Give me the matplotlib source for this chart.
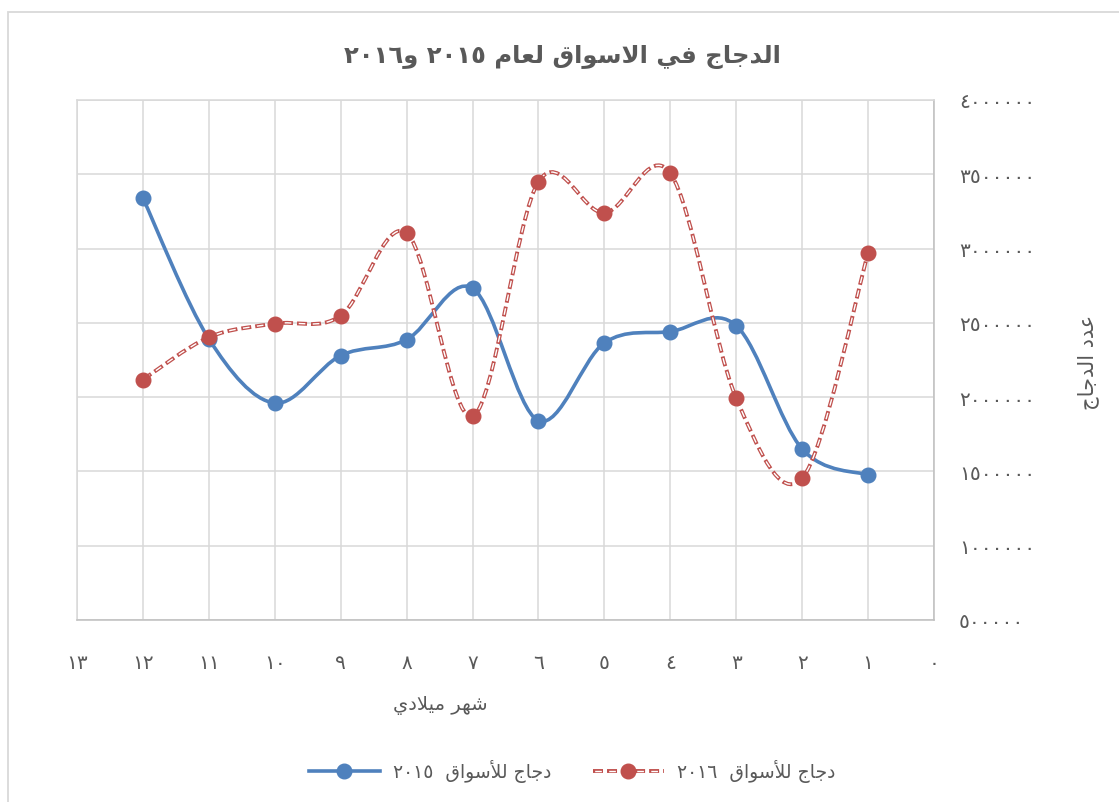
import re

import matplotlib

matplotlib.use("Agg")
import matplotlib.pyplot as plt
import numpy as np
from matplotlib.legend_handler import HandlerTuple
from matplotlib.lines import Line2D
from matplotlib.patches import PathPatch, Rectangle
from matplotlib.path import Path

plt.rcParams["font.family"] = ["DejaVu Sans"]
plt.rcParams["lines.scale_dashes"] = False

# months (x) and market chickens per month
months = [12, 11, 10, 9, 8, 7, 6, 5, 4, 3, 2, 1]
chickens_2015 = [3340000, 2392000, 1960000, 2280000, 2387000, 2733000,
                 1842000, 2365000, 2441000, 2481000, 1651000, 1476000]
chickens_2016 = [2118000, 2403000, 2495000, 2548000, 3105000, 1871000,
                 3450000, 3240000, 3507000, 1993000, 1454000, 2970000]

x_ticks = list(range(0, 14))
y_ticks = list(range(500000, 4000001, 500000))

title_text = "الدجاج في الاسواق لعام ٢٠١٥ و٢٠١٦"
x_title = "شهر ميلادي"
y_title = "عدد الدجاج"
label_2015 = "دجاج للأسواق  ٢٠١٥"
label_2016 = "دجاج للأسواق  ٢٠١٦"

BLUE = "#4F81BD"
RED = "#C0504D"
GRID = "#D9D9D9"
AXIS = "#BFBFBF"
TEXT = "#595959"

# --- minimal Arabic shaping (presentation forms) + visual ordering ---------
FORMS = {
    "ا": ("\uFE8D", "\uFE8E", None, None),
    "أ": ("\uFE83", "\uFE84", None, None),
    "د": ("\uFEA9", "\uFEAA", None, None),
    "ر": ("\uFEAD", "\uFEAE", None, None),
    "و": ("\uFEED", "\uFEEE", None, None),
    "ج": ("\uFE9D", "\uFE9E", "\uFE9F", "\uFEA0"),
    "س": ("\uFEB1", "\uFEB2", "\uFEB3", "\uFEB4"),
    "ش": ("\uFEB5", "\uFEB6", "\uFEB7", "\uFEB8"),
    "ع": ("\uFEC9", "\uFECA", "\uFECB", "\uFECC"),
    "ف": ("\uFED1", "\uFED2", "\uFED3", "\uFED4"),
    "ق": ("\uFED5", "\uFED6", "\uFED7", "\uFED8"),
    "ل": ("\uFEDD", "\uFEDE", "\uFEDF", "\uFEE0"),
    "م": ("\uFEE1", "\uFEE2", "\uFEE3", "\uFEE4"),
    "ه": ("\uFEE9", "\uFEEA", "\uFEEB", "\uFEEC"),
    "ي": ("\uFEF1", "\uFEF2", "\uFEF3", "\uFEF4"),
}
LAM_ALEF = {"ا": ("\uFEFB", "\uFEFC"), "أ": ("\uFEF7", "\uFEF8")}
DIGITS = str.maketrans("0123456789", "٠١٢٣٤٥٦٧٨٩")


def joins_next(c: str) -> bool:
    return c in FORMS and FORMS[c][2] is not None


def shape(text: str) -> str:
    out = []
    i = 0
    while i < len(text):
        c = text[i]
        if c not in FORMS:
            out.append(c)
            i += 1
            continue
        linked = i > 0 and joins_next(text[i - 1])
        nxt = text[i + 1] if i + 1 < len(text) else ""
        if c == "ل" and nxt in LAM_ALEF:
            iso, fin = LAM_ALEF[nxt]
            out.append(fin if linked else iso)
            i += 2
            continue
        to_next = joins_next(c) and nxt in FORMS
        iso, fin, ini, med = FORMS[c]
        if linked and to_next:
            out.append(med)
        elif linked:
            out.append(fin)
        elif to_next:
            out.append(ini)
        else:
            out.append(iso)
        i += 1
    return "".join(out)


def rtl(text: str) -> str:
    runs = re.findall(r"[٠-٩]+|[^٠-٩]+", shape(text))
    return "".join(r if re.match(r"[٠-٩]", r) else r[::-1] for r in reversed(runs))


def ar_num(v) -> str:
    return str(int(v)).translate(DIGITS)


def smooth_path(xs, ys) -> Path:
    """Cubic Bezier through every point, tangents from neighbouring points."""
    pts = np.column_stack([xs, ys]).astype(float)
    n = len(pts)
    verts = [pts[0]]
    codes = [Path.MOVETO]
    for i in range(n - 1):
        p0 = pts[max(i - 1, 0)]
        p1, p2 = pts[i], pts[i + 1]
        p3 = pts[min(i + 2, n - 1)]
        verts += [p1 + (p2 - p0) / 6, p2 - (p3 - p1) / 6, p2]
        codes += [Path.CURVE4] * 3
    return Path(verts, codes)


W, H = 1119, 803
fig = plt.figure(figsize=(W / 100, H / 100), dpi=100)
ax = fig.add_axes([77 / W, 1 - 621 / H, (934 - 77) / W, (621 - 101) / H])

# chart frame
fig.patches.append(Rectangle((7.5 / W, -0.05), 1.2, 1 - 13 / H + 0.05, transform=fig.transFigure,
                             fill=False, edgecolor=GRID, linewidth=1.3, zorder=0))

ax.set_xlim(13, 0)
ax.set_ylim(500000, 4000000)
ax.set_xticks(x_ticks)
ax.set_xticklabels([ar_num(v) for v in x_ticks])
ax.set_yticks(y_ticks)
ax.set_yticklabels([ar_num(v) for v in y_ticks])
ax.yaxis.tick_right()
ax.tick_params(axis="both", length=0, labelsize=14.5, labelcolor=TEXT)
ax.tick_params(axis="x", pad=24)
ax.tick_params(axis="y", pad=18)
ax.grid(True, color=GRID, linewidth=1.1)
ax.set_axisbelow(True)
for side in ("left", "top"):
    ax.spines[side].set_color(GRID)
    ax.spines[side].set_linewidth(1.1)
for side in ("right", "bottom"):
    ax.spines[side].set_color(AXIS)
    ax.spines[side].set_linewidth(1.1)

# 2015: solid smoothed line
ax.add_patch(PathPatch(smooth_path(months, chickens_2015), fill=False, edgecolor=BLUE,
                       linewidth=2.6, capstyle="round", joinstyle="round", zorder=3))
ax.plot(months, chickens_2015, "o", color=BLUE, markersize=10.5, zorder=4)

# 2016: outlined dashes (red dash with a white core)
red_dash = (0, (7.2, 2.9))
white_dash = (8.9, (4.8, 5.3))
path16 = smooth_path(months, chickens_2016)
ax.add_patch(PathPatch(path16, fill=False, edgecolor=RED, linewidth=2.8,
                       linestyle=red_dash, zorder=5))
ax.add_patch(PathPatch(path16, fill=False, edgecolor="white", linewidth=1.0,
                       linestyle=white_dash, zorder=5.1))
ax.plot(months, chickens_2016, "o", color=RED, markersize=10.5, zorder=6)

fig.text(562 / W, 1 - 57 / H, rtl(title_text), ha="center", va="center",
         fontsize=17.5, fontweight="bold", color=TEXT)
fig.text(440 / W, 1 - 706 / H, rtl(x_title), ha="center", va="center",
         fontsize=14, color=TEXT)
fig.text(1088 / W, 1 - 362 / H, rtl(y_title), ha="center", va="center",
         fontsize=15, color=TEXT, rotation=90)

h15 = Line2D([], [], color=BLUE, linewidth=2.6, marker="o", markersize=10.5)
h16 = (
    Line2D([], [], color=RED, linewidth=2.8, linestyle=red_dash),
    Line2D([], [], color="white", linewidth=1.0, linestyle=white_dash),
    Line2D([], [], color=RED, linestyle="none", marker="o", markersize=10.5),
)
fig.legend([h15, h16], [rtl(label_2015), rtl(label_2016)],
           handler_map={tuple: HandlerTuple(ndivide=1, pad=0)},
           loc="center", bbox_to_anchor=(572 / W, 1 - 772 / H), ncol=2,
           frameon=False, fontsize=13.5, labelcolor=TEXT, handlelength=3.8,
           handletextpad=0.7, columnspacing=2.2)

fig.savefig("out.png", dpi=100)
